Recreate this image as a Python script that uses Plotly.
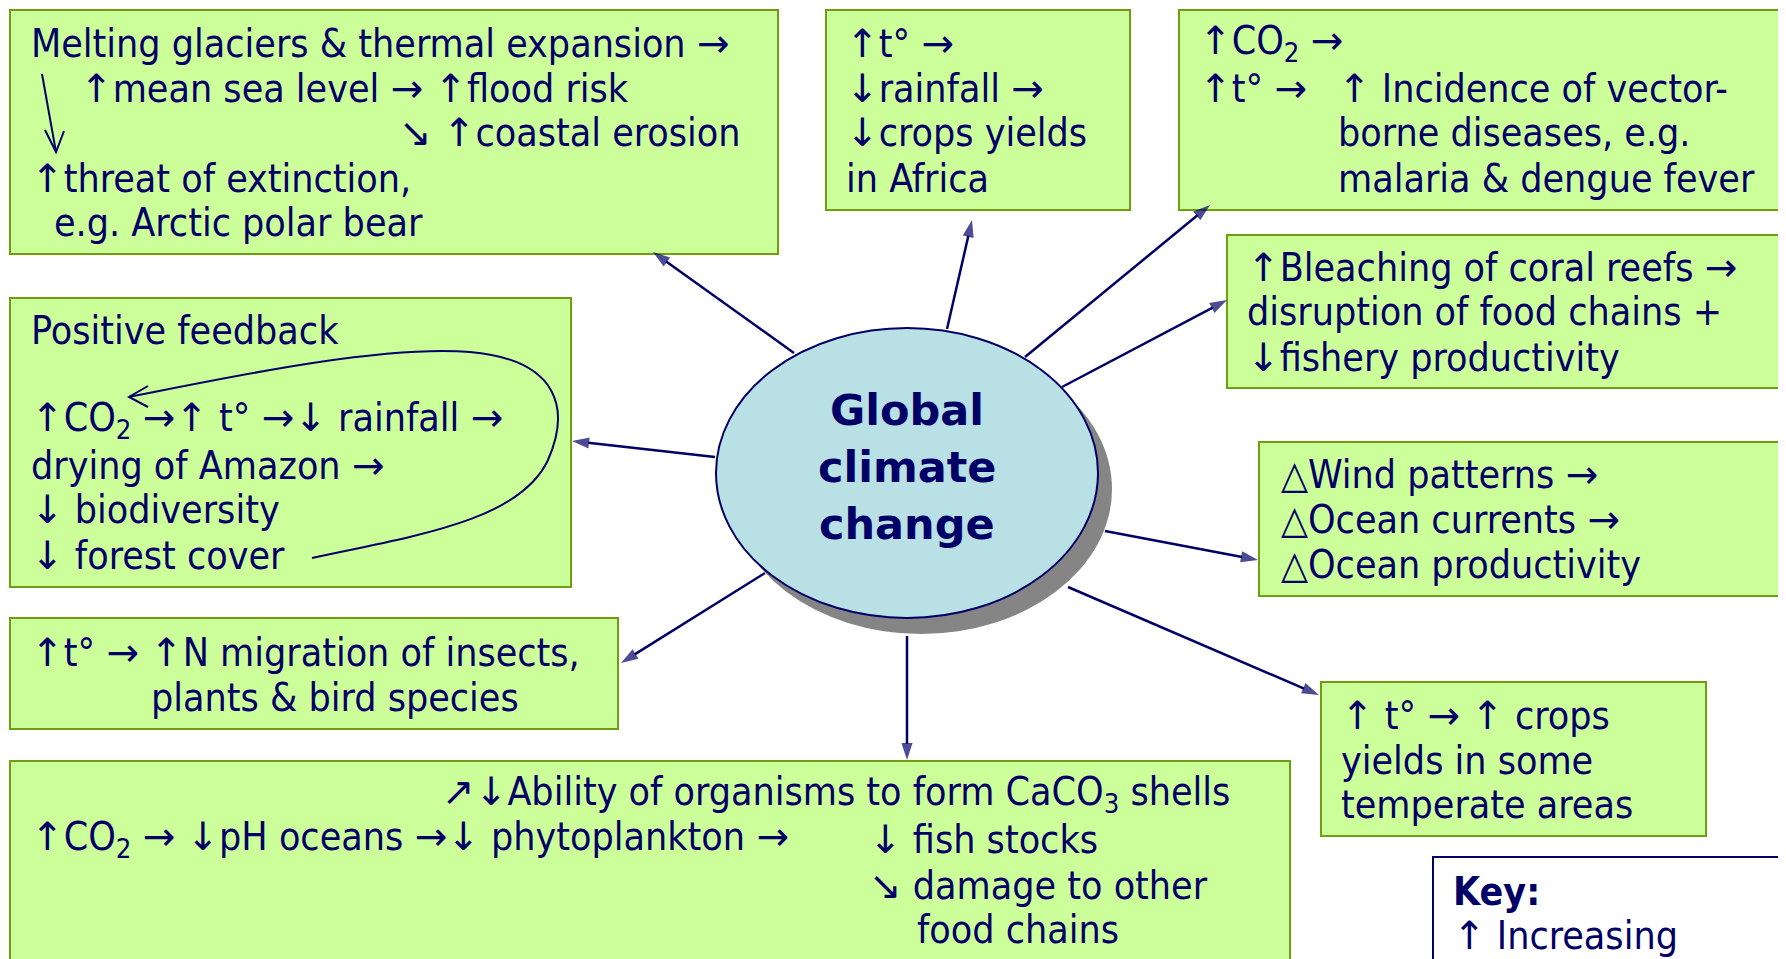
import plotly.graph_objects as go

W, H = 1786, 959
OFF = 8  # browser body margin
NAVY = "#000066"
GREEN_FILL = "#ccff99"
GREEN_EDGE = "#6f9f10"
FONT = "DejaVu Sans Condensed, DejaVu Sans, sans-serif"
FS = 39

# ---- diagram content ----
centre_lines = ["Global", "climate", "change"]

box_rects = [  # x0, y0, x1, y1 in page pixels
    (10, 10, 778, 254),
    (826, 10, 1130, 210),
    (1179, 10, 1800, 210),
    (1227, 235, 1800, 388),
    (10, 298, 571, 587),
    (1259, 442, 1800, 596),
    (10, 618, 618, 729),
    (10, 761, 1290, 975),
    (1321, 682, 1706, 836),
]

text_lines = [  # x, y, text
    (29, 43, "Melting glaciers &amp; thermal expansion →"),
    (78, 88, "↑mean sea level → ↑flood risk"),
    (397, 132, "↘ ↑coastal erosion"),
    (29, 178, "↑threat of extinction,"),
    (52, 222, "e.g. Arctic polar bear"),

    (844, 43, "↑t° →"),
    (844, 88, "↓rainfall →"),
    (844, 132, "↓crops yields"),
    (844, 178, "in Africa"),

    (1197, 43, "↑CO<sub>2</sub> →"),
    (1197, 88, "↑t° →"),
    (1336, 88, "↑ Incidence of vector-"),
    (1336, 132, "borne diseases, e.g."),
    (1336, 178, "malaria &amp; dengue fever"),

    (1245, 267, "↑Bleaching of coral reefs →"),
    (1245, 311, "disruption of food chains +"),
    (1245, 357, "↓fishery productivity"),

    (29, 330, "Positive feedback"),
    (29, 420, "↑CO<sub>2</sub> →↑ t° →↓ rainfall →"),
    (29, 465, "drying of Amazon →"),
    (29, 509, "↓ biodiversity"),
    (29, 555, "↓ forest cover"),

    (1279, 474, "△Wind patterns →"),
    (1279, 519, "△Ocean currents →"),
    (1279, 564, "△Ocean productivity"),

    (29, 652, "↑t° → ↑N migration of insects,"),
    (149, 697, "plants &amp; bird species"),

    (440, 794, "↗↓Ability of organisms to form CaCO<sub>3</sub> shells"),
    (29, 839, "↑CO<sub>2</sub> → ↓pH oceans →↓ phytoplankton →"),
    (867, 839, "↓ fish stocks"),
    (867, 885, "↘ damage to other"),
    (915, 929, "food chains"),

    (1339, 715, "↑ t° → ↑ crops"),
    (1339, 760, "yields in some"),
    (1339, 804, "temperate areas"),
]

key_lines = [(1451, 891, "<b>Key:</b>"), (1451, 935, "↑ Increasing")]

# arrows from the central ellipse: (tail x, tail y, head x, head y)
spokes = [
    (794, 353, 653, 252),
    (947, 329, 972, 220),
    (1025, 357, 1210, 205),
    (1062, 387, 1227, 300),
    (715, 457, 572, 441),
    (1105, 531, 1258, 560),
    (765, 573, 621, 663),
    (907, 636, 907, 760),
    (1068, 587, 1319, 695),
]

ARROW_GLYPHS = "→↑↓↘↗"


def style_arrows(t):
    out = []
    for ch in t:
        if ch in ARROW_GLYPHS:
            out.append('<span style="font-family:DejaVu Sans">%s</span>' % ch)
        else:
            out.append(ch)
    return "".join(out)


fig = go.Figure()
shapes = []
for (x0, y0, x1, y1) in box_rects:
    shapes.append(dict(type="rect", xref="x", yref="y", x0=x0, y0=y0, x1=x1, y1=y1,
                       fillcolor=GREEN_FILL, line=dict(color=GREEN_EDGE, width=2), layer="below"))
# key box
shapes.append(dict(type="rect", xref="x", yref="y", x0=1433, y0=857, x1=1800, y1=975,
                   fillcolor="white", line=dict(color=NAVY, width=2), layer="below"))
# ellipse shadow + ellipse
shapes.append(dict(type="circle", xref="x", yref="y", x0=730, y0=344, x1=1112, y1=634,
                   fillcolor="#858585", line=dict(width=0)))
shapes.append(dict(type="circle", xref="x", yref="y", x0=716, y0=328, x1=1098, y1=618,
                   fillcolor="#b9e0e4", line=dict(color=NAVY, width=2)))
# feedback loop curve
shapes.append(dict(type="path", xref="x", yref="y",
                   path="M 312 558 C 420 535, 520 520, 548 460 C 570 410, 560 360, 470 352 "
                        "C 380 345, 230 377, 129 397",
                   line=dict(color=NAVY, width=2)))
shapes.append(dict(type="path", xref="x", yref="y",
                   path="M 148 386 L 129 397 L 148 407", line=dict(color=NAVY, width=2)))
# small arrow in first box
shapes.append(dict(type="path", xref="x", yref="y",
                   path="M 42 74 L 56 152", line=dict(color=NAVY, width=2)))
shapes.append(dict(type="path", xref="x", yref="y",
                   path="M 45 130 L 56 152 L 64 131", line=dict(color=NAVY, width=2)))

for (tx, ty, hx, hy) in spokes:
    fig.add_trace(go.Scatter(
        x=[tx, hx], y=[ty, hy], mode="lines+markers",
        line=dict(color=NAVY, width=2.5),
        marker=dict(symbol=["circle", "arrow"], size=[0, 18], angleref="previous",
                    color=NAVY, line=dict(width=0)),
        hoverinfo="skip", showlegend=False))

annotations = []
for (x, y, t) in text_lines + key_lines:
    annotations.append(dict(x=x, y=y, xref="x", yref="y", text=style_arrows(t), showarrow=False,
                            xanchor="left", yanchor="middle", align="left",
                            font=dict(family=FONT, size=FS, color=NAVY)))
for i, t in enumerate(centre_lines):
    annotations.append(dict(x=907, y=410 + 57 * i, xref="x", yref="y", text="<b>%s</b>" % t,
                            showarrow=False, xanchor="center", yanchor="middle",
                            font=dict(family="DejaVu Sans, sans-serif", size=43, color=NAVY)))

fig.update_layout(
    width=W, height=H, margin=dict(l=0, r=0, t=0, b=0),
    paper_bgcolor="white", plot_bgcolor="white",
    xaxis=dict(range=[OFF, W + OFF], visible=False, fixedrange=True),
    yaxis=dict(range=[H + OFF, OFF], visible=False, fixedrange=True),
    shapes=shapes, annotations=annotations, showlegend=False,
)
fig.write_html("out.html", config={"displayModeBar": False})
